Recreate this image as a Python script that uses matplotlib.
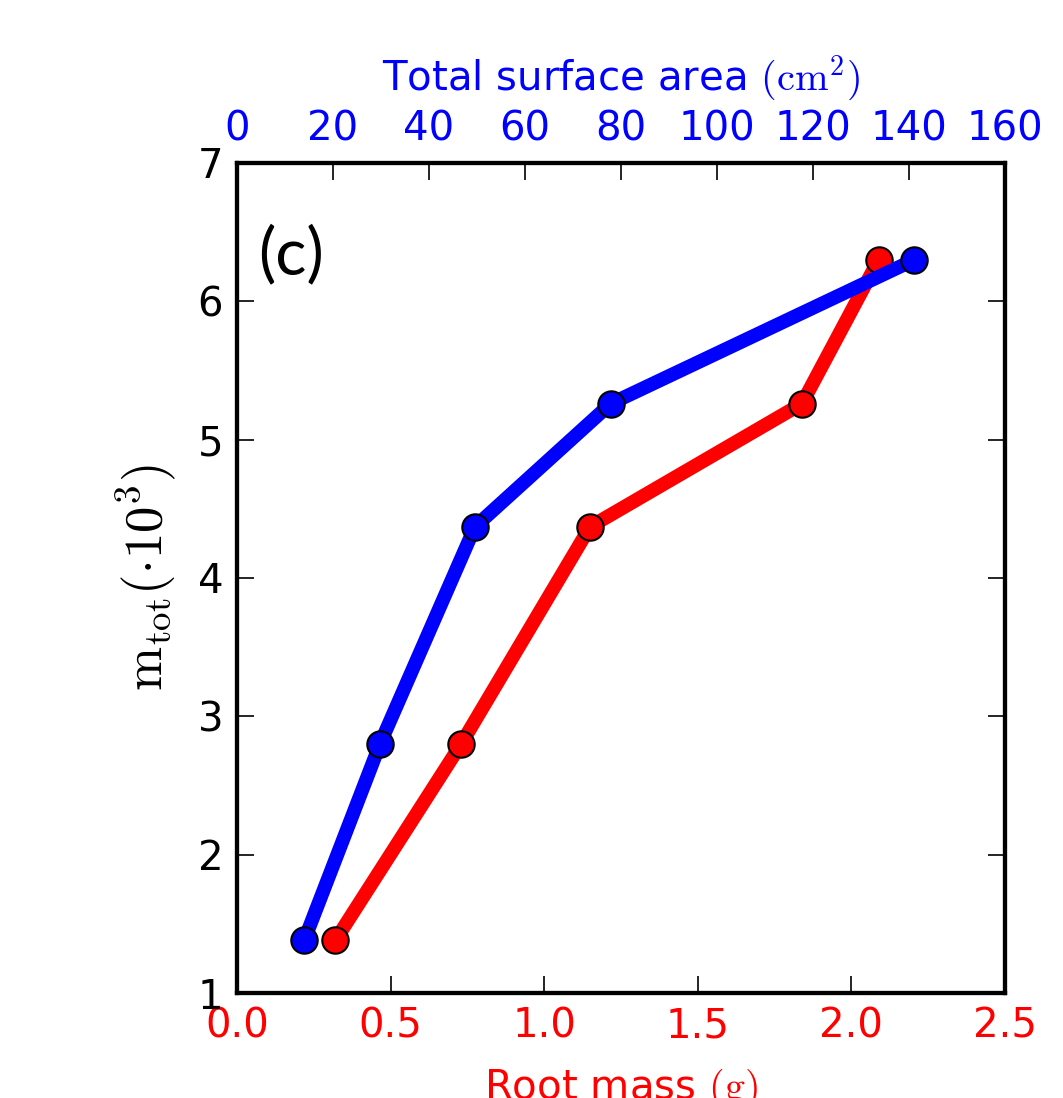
import matplotlib
matplotlib.use('Agg')
import matplotlib.pyplot as plt

# data
m_tot = [1.38, 2.80, 4.37, 5.26, 6.30]
root_mass = [0.32, 0.73, 1.15, 1.84, 2.09]
surface_area = [14.0, 29.8, 49.6, 77.9, 141.2]

x_bottom_ticks = [0.0, 0.5, 1.0, 1.5, 2.0, 2.5]
x_top_ticks = [0, 20, 40, 60, 80, 100, 120, 140, 160]
y_ticks = [1, 2, 3, 4, 5, 6, 7]

plt.rcParams['mathtext.fontset'] = 'cm'

fig = plt.figure(figsize=(10.63, 10.98), dpi=100)
ax = fig.add_axes([0.223, 0.0956, 0.722, 0.756])

ax.plot(root_mass, m_tot, '-o', color='red', lw=10, ms=19,
        markeredgecolor='black', markeredgewidth=1.5)
ax.set_xlim(0, 2.5)
ax.set_ylim(1, 7)
ax.set_xticks(x_bottom_ticks)
ax.set_xticklabels(['%.1f' % v for v in x_bottom_ticks])
ax.set_yticks(y_ticks)
ax.tick_params(axis='x', colors='red', labelsize=29, direction='in',
               length=12, width=1.2, pad=10)
ax.tick_params(axis='x', color='black')
ax.tick_params(axis='y', labelsize=29, direction='in', length=12, width=1.2,
               right=True, pad=10)
ax.set_xlabel(r'Root mass $(\mathrm{g})$', color='red', fontsize=29, labelpad=14)
ax.set_ylabel(r'$\mathrm{m_{tot}}(\cdot 10^3)$', fontsize=38, labelpad=14)
for s in ax.spines.values():
    s.set_linewidth(3)

ax2 = ax.twiny()
ax2.plot(surface_area, m_tot, '-o', color='blue', lw=10, ms=19,
         markeredgecolor='black', markeredgewidth=1.5)
ax2.set_xlim(0, 160)
ax2.set_xticks(x_top_ticks)
ax2.tick_params(axis='x', labelcolor='blue', labelsize=29, direction='in',
                length=12, width=1.2, pad=10)
ax2.set_xlabel(r'Total surface area $(\mathrm{cm}^2)$', color='blue',
               fontsize=29, labelpad=14)
ax2.set_ylim(1, 7)
for s in ax2.spines.values():
    s.set_linewidth(3)

ax.text(0.028, 0.889, '(c)', transform=ax.transAxes, fontsize=47,
        family='Lato', va='center')

fig.savefig('out.png', dpi=100)
